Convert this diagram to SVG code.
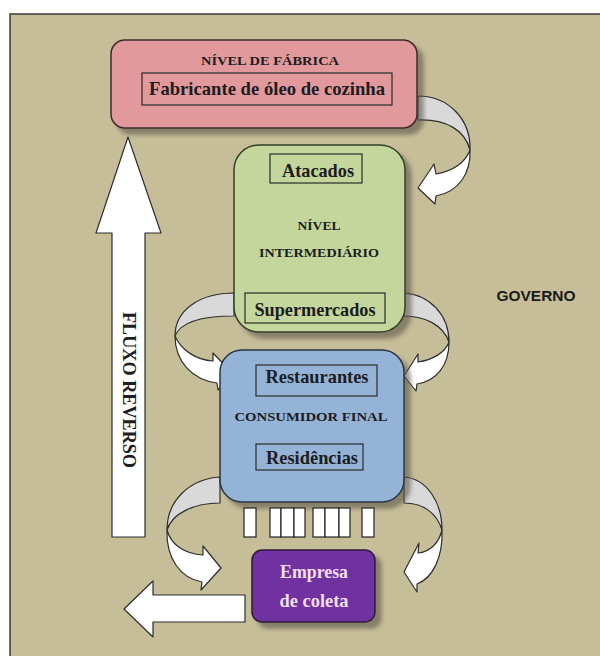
<svg xmlns="http://www.w3.org/2000/svg" width="600" height="656" viewBox="0 0 600 656">
<defs>
<filter id="sh" x="-10%" y="-10%" width="130%" height="130%">
<feDropShadow dx="6" dy="6" stdDeviation="2" flood-color="#5a5648" flood-opacity="0.6"/>
</filter>
<style>
.box{stroke-width:1.5}
.lbl{font-family:"Liberation Serif","Times New Roman",serif;font-weight:bold;fill:#1c1c22;text-anchor:middle}
.sm{font-size:13px}
.big{font-size:19.5px}
.inner{fill:none;stroke:#2a2a2a;stroke-width:1.2}
.back{fill:#d9d9d9;stroke:#2e2e2e;stroke-width:1.2;stroke-linejoin:round}
.front{fill:#ffffff;stroke:#2e2e2e;stroke-width:1.2;stroke-linejoin:round}
.wr{fill:#ffffff;stroke:#222;stroke-width:1.2}
</style>
</defs>
<rect x="0" y="0" width="600" height="656" fill="#ffffff"/>
<rect x="10" y="14" width="600" height="660" fill="#c6bd99" stroke="#3a3a3a" stroke-width="1.5"/>

<g id="connectors">
<g id="arrow-fabrica-intermediario">
<path class="back" d="M418 96 C449 96 471 120 470 150 C465 130 446 119 418 120 Z"/>
<path class="front" d="M470 150 C471 174 458 192 436 196 L435 204 L418 188 L434 164 L436 174 C452 171 465 163 470 150 Z"/>
</g>
<g id="arrow-inter-consumidor-left">
<path class="back" d="M234 293 C200 293 175 310 175 336 C181 321 205 316 234 316 Z"/>
<path class="front" d="M175 336 C175 362 193 380 217 383 L218 390 L233 374 L213 353 L213 361 C196 360 181 350 175 336 Z"/>
</g>
<g id="arrow-inter-consumidor-right">
<path class="back" d="M404 293 C430 295 449 315 449 342 C443 325 425 316 404 316 Z"/>
<path class="front" d="M449 342 C449 366 436 381 417 384 L416 391 L404 376 L418 354 L418 362 C432 360 445 353 449 342 Z"/>
</g>
<g id="arrow-consumidor-coleta-left">
<path class="back" d="M220 477 C190 479 167 500 167 530 C172 513 195 503 220 503 Z"/>
<path class="front" d="M167 530 C166 558 180 578 202 582 L201 590 L221 568 L203 546 L203 555 C185 554 171 545 167 530 Z"/>
</g>
<g id="arrow-consumidor-coleta-right">
<path class="back" d="M404 477 C427 479 442 502 442 530 C437 513 423 503 404 503 Z"/>
<path class="front" d="M442 530 C443 557 433 578 417 584 L417 592 L404 572 L419 543 L418 553 C430 552 439 543 442 530 Z"/>
</g>
<g id="arrow-fluxo-reverso">
<polygon class="front" points="128,137 161,233 145,233 145,537 112,537 112,233 96,233"/>
<text class="lbl" font-size="19" transform="translate(123,390) rotate(90)" x="0" y="0" textLength="156" lengthAdjust="spacingAndGlyphs">FLUXO REVERSO</text>
</g>
<g id="arrow-saida">
<polygon class="front" points="124,609 153,581 153,595 245,595 245,622 153,622 153,637"/>
</g>
</g>

<g id="node-fabrica">
<rect class="box" x="111" y="40" width="306" height="88" rx="14" fill="#e1999b" stroke="#3d2b2b" filter="url(#sh)"/>
<text class="lbl sm" x="270" y="65" textLength="138" lengthAdjust="spacingAndGlyphs">NÍVEL DE FÁBRICA</text>
<rect class="inner" x="142" y="73" width="250" height="32"/>
<text class="lbl" font-size="19" x="267" y="95" textLength="236" lengthAdjust="spacingAndGlyphs">Fabricante de óleo de cozinha</text>
</g>

<g id="node-intermediario">
<rect class="box" x="234" y="145" width="171" height="187" rx="25" fill="#c4d69b" stroke="#34402a" filter="url(#sh)"/>
<rect class="inner" x="270" y="154" width="92" height="29"/>
<text class="lbl big" x="318" y="177" textLength="72" lengthAdjust="spacingAndGlyphs">Atacados</text>
<text class="lbl sm" x="319" y="230" textLength="43" lengthAdjust="spacingAndGlyphs">NÍVEL</text>
<text class="lbl sm" x="319" y="257" textLength="120" lengthAdjust="spacingAndGlyphs">INTERMEDIÁRIO</text>
<rect class="inner" x="245" y="293" width="140" height="30"/>
<text class="lbl big" x="315" y="316" textLength="121" lengthAdjust="spacingAndGlyphs">Supermercados</text>
</g>

<g id="node-consumidor">
<rect class="box" x="220" y="350" width="184" height="152" rx="22" fill="#95b3d7" stroke="#2a3545" filter="url(#sh)"/>
<rect class="inner" x="256" y="365" width="121" height="31"/>
<text class="lbl big" x="317" y="383" textLength="103" lengthAdjust="spacingAndGlyphs">Restaurantes</text>
<text class="lbl" font-size="13.5" x="311" y="421" textLength="153" lengthAdjust="spacingAndGlyphs">CONSUMIDOR FINAL</text>
<rect class="inner" x="256" y="444" width="107" height="26"/>
<text class="lbl big" x="312" y="464" textLength="92" lengthAdjust="spacingAndGlyphs">Residências</text>
</g>

<g id="node-residuos">
<rect class="wr" x="244" y="508" width="12" height="29"/>
<rect class="wr" x="270" y="508" width="11" height="29"/>
<rect class="wr" x="281" y="508" width="13" height="29"/>
<rect class="wr" x="294" y="508" width="11" height="29"/>
<rect class="wr" x="313" y="508" width="12" height="29"/>
<rect class="wr" x="325" y="508" width="14" height="29"/>
<rect class="wr" x="339" y="508" width="11" height="29"/>
<rect class="wr" x="362" y="508" width="12" height="29"/>
</g>

<g id="node-coleta">
<rect class="box" x="252" y="550" width="123" height="72" rx="10" fill="#7030a0" stroke="#2e1a3a" filter="url(#sh)"/>
<text class="lbl big" x="314" y="578" style="fill:#f3dff3" textLength="68" lengthAdjust="spacingAndGlyphs">Empresa</text>
<text class="lbl big" x="314" y="607" style="fill:#f3dff3" textLength="69" lengthAdjust="spacingAndGlyphs">de coleta</text>
</g>

<g id="node-governo">
<text x="536" y="301" font-family="'Liberation Sans',Arial,sans-serif" font-weight="bold" font-size="14.5" fill="#1a1a1a" text-anchor="middle" textLength="79" lengthAdjust="spacingAndGlyphs">GOVERNO</text>
</g>
</svg>
